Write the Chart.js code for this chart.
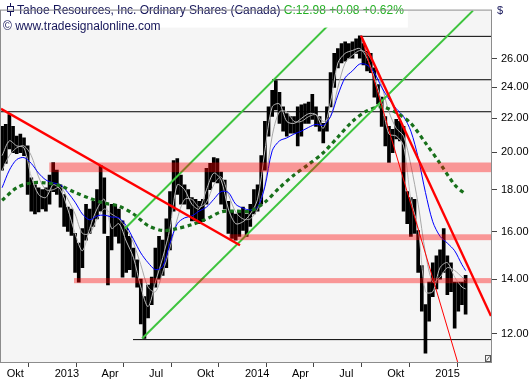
<!DOCTYPE html>
<html><head><meta charset="utf-8">
<script src="https://cdn.jsdelivr.net/npm/chart.js@4.4.1/dist/chart.umd.min.js"></script>
<style>html,body{margin:0;padding:0;background:#fff;overflow:hidden}#wrap{width:529px;height:380px;position:relative}</style>
</head><body><div id="wrap"><canvas id="c" width="529" height="380"></canvas></div>
<script>
// Dates are day offsets counted from 1 Oct 2012
const tickDays = [0, 92, 182, 273, 365, 457, 547, 638, 730, 822];
const tickLabels = ['Okt', '2013', 'Apr', 'Jul', 'Okt', '2014', 'Apr', 'Jul', 'Okt', '2015'];
const yTicks = [12, 14, 16, 18, 20, 22, 24, 26];
const xMin = -7.1, xMax = 932.7, yMin = 11.09, yMax = 29.78;
const firstWeekDay = -5, weekStep = 7;

// weekly high / low ranges (C$)
const highs = [21.51,21.63,22.23,21.51,20.93,21.05,20.82,20.36,18.61,18.25,18.10,18.00,18.10,18.76,19.43,19.02,18.25,17.76,17.14,17.05,
15.92,15.49,16.14,17.28,17.05,17.42,18.00,19.28,18.61,15.79,17.28,17.28,17.05,16.49,16.23,15.79,15.28,14.78,14.00,13.33,
13.77,14.08,15.28,15.79,15.62,16.58,17.90,19.54,19.65,18.76,18.25,18.00,17.61,17.52,17.42,17.52,19.12,19.38,19.70,19.65,
18.91,18.50,17.42,16.95,16.81,16.95,17.14,16.81,17.28,18.00,18.25,19.81,21.81,22.72,23.80,24.46,23.67,22.72,22.29,22.11,
22.11,22.72,22.85,22.91,23.03,23.54,22.72,22.11,21.69,22.72,25.01,26.41,26.77,27.14,27.28,27.14,27.28,27.51,27.74,27.14,
26.55,26.41,25.35,24.19,23.35,22.11,21.51,21.33,21.93,21.81,21.51,17.90,17.61,17.52,16.05,14.54,13.03,13.88,14.66,14.95,
15.20,16.14,14.95,14.66,13.88,13.88,13.88,14.15];
const lows = [19.02,19.38,20.19,19.97,19.92,19.97,19.81,17.76,16.95,16.81,16.91,17.05,16.95,17.28,17.90,17.76,17.14,16.23,16.01,15.83,
14.27,13.88,14.46,15.62,15.92,16.23,16.58,16.95,15.92,13.77,15.20,15.79,15.49,14.08,14.27,14.38,14.08,13.69,12.34,11.85,
12.55,13.03,13.69,14.00,14.15,14.46,15.20,16.95,17.76,17.28,17.28,17.05,16.49,16.49,16.36,16.45,17.28,18.00,18.40,18.35,
17.28,17.05,15.92,15.70,15.62,15.79,16.05,15.79,16.23,16.81,16.95,17.28,19.02,20.93,22.11,22.53,21.69,21.22,20.93,21.10,
21.10,20.36,20.93,21.69,21.69,21.93,21.51,21.22,20.53,21.22,22.72,24.00,25.35,25.70,25.84,26.05,26.05,26.41,26.05,25.56,
25.14,25.01,23.35,22.91,21.51,20.36,19.43,19.97,20.76,20.65,16.95,16.36,15.79,15.92,14.27,12.79,11.37,12.44,13.33,13.62,
14.00,14.27,13.40,13.51,12.20,12.79,13.03,12.69];

// moving averages, read every 2nd week (plus last week)
const maBlue = [18.10,19.02,19.59,19.70,19.38,18.86,18.50,18.35,18.25,17.86,17.38,16.81,16.54,16.72,16.76,16.67,16.63,16.27,15.66,15.07,
14.66,14.38,14.50,15.49,16.36,16.63,16.72,16.95,17.14,17.52,17.90,17.86,17.28,17.09,17.00,17.14,18.15,20.08,20.65,20.82,
21.05,21.22,21.45,21.63,21.57,22.11,23.48,24.66,25.14,25.63,25.56,25.01,24.00,23.22,22.60,22.11,21.22,19.70,17.86,16.45,
15.79,15.49,15.16,14.58,14.34];
const maGrayFast = [19.81,20.65,20.36,20.25,18.66,17.76,17.61,18.25,18.00,17.05,15.92,15.16,16.14,17.05,17.52,16.14,16.36,15.58,14.87,13.69,
12.96,13.88,14.87,16.14,18.25,18.00,17.28,17.05,18.00,18.86,18.50,17.05,16.36,16.45,16.81,17.52,20.08,22.72,22.91,21.81,
21.69,21.99,22.29,22.23,21.39,23.03,25.70,26.41,26.62,26.77,26.05,24.66,23.03,21.05,20.93,20.36,17.52,16.14,13.51,13.51,
14.46,14.66,14.08,13.69,13.62];
const maGraySlow = [19.02,19.81,20.25,20.36,19.81,18.66,18.00,18.00,18.15,17.52,16.81,15.92,15.92,16.58,17.05,16.81,16.58,16.14,15.49,14.58,
13.69,13.51,14.27,15.28,16.58,17.52,17.52,17.14,17.38,18.25,18.66,17.76,16.91,16.58,16.58,17.05,18.25,20.93,22.41,22.41,
21.81,21.81,22.11,22.23,21.81,22.11,24.00,25.70,26.26,26.62,26.41,25.49,24.13,22.41,21.39,20.93,19.28,17.28,15.07,13.88,
14.08,14.46,14.34,14.08,13.96];
// long moving average, read every 4th week (plus last week)
const maGreen = [17.47,18.10,18.35,18.35,18.20,17.86,17.57,17.33,17.19,16.81,16.27,16.05,16.14,16.32,16.58,16.91,16.95,16.95,17.38,18.10,
18.76,19.33,19.97,20.87,21.81,22.47,22.72,22.35,21.69,20.53,19.38,18.25,17.76];

// drawn trendlines: [day, price] end points
const redLine1 = [[-7.1, 22.60], [451.3, 15.40]];
const redLine2 = [[683.4, 27.74], [932.7, 12.62]];
const redThin = [[683.4, 27.74], [868.6, 11.09]];
const greenUpper = [[230.7, 16.14], [648.8, 29.78]];
const greenLower = [[263.5, 11.85], [898.2, 29.78]];
// horizontal lines: [start day, price] (run to right edge)
const hLines = [[683.4, 27.70], [512.7, 24.52], [-7.1, 22.41], [246.1, 11.81]];
// zones: [start day, low price, high price]
const zones = [[85.5, 18.91, 19.43], [430.2, 15.62, 15.88], [132.9, 13.84, 14.04]];

const weekDay = i => firstWeekDay + weekStep * i;
const idx2 = []; for (let i = 0; i < highs.length; i += 2) idx2.push(i); idx2.push(highs.length - 1);
const idx4 = []; for (let i = 0; i < highs.length; i += 4) idx4.push(i); idx4.push(highs.length - 1);
const toPts = (arr, idx) => arr.map((v, k) => ({x: weekDay(idx[k]), y: v}));
const seg = a => a.map(p => ({x: p[0], y: p[1]}));

const FONT = 'Liberation Sans';
const lineDs = (data, color, width, order, extra) => Object.assign({
  type: 'line', data, borderColor: color, borderWidth: width, pointRadius: 0, fill: false, tension: 0, order
}, extra || {});

const datasets = [];
hLines.forEach(h => datasets.push(lineDs(seg([[h[0], h[1]], [xMax, h[1]]]), '#000000', 1, 20)));
datasets.push({type: 'bar', data: highs.map((h, i) => ({x: weekDay(i), y: [lows[i], h]})),
  backgroundColor: '#000000', borderWidth: 0, barThickness: 3, order: 15});
datasets.push(lineDs(toPts(maGraySlow, idx2), '#a8a8a8', 1, 12, {tension: 0.3}));
datasets.push(lineDs(toPts(maGrayFast, idx2), '#bdbdbd', 1, 11, {tension: 0.3}));
datasets.push(lineDs(toPts(maBlue, idx2), '#0000ff', 1, 10, {tension: 0.3}));
datasets.push(lineDs(toPts(maGreen, idx4), '#17701a', 3.2, 9, {tension: 0.3, borderDash: [4, 3.5], borderCapStyle: 'butt'}));
datasets.push(lineDs(seg(greenUpper), '#3ec43e', 2, 8));
datasets.push(lineDs(seg(greenLower), '#3ec43e', 2, 8));
datasets.push(lineDs(seg(redThin), '#ff0000', 1, 7));
datasets.push(lineDs(seg(redLine1), '#ff0000', 2.4, 6));
datasets.push(lineDs(seg(redLine2), '#ff0000', 2.4, 6));

const deco = {
  id: 'deco',
  beforeDraw(chart) {
    const {ctx, chartArea: a} = chart;
    ctx.save();
    ctx.fillStyle = '#ffffff';
    ctx.fillRect(0, 0, chart.width, chart.height);
    ctx.fillStyle = '#f5f5f5';
    ctx.fillRect(a.left, a.top, a.right - a.left, a.bottom - a.top);
    ctx.restore();
  },
  afterDatasetsDraw(chart) {
    const {ctx, chartArea: a, scales: {x, y}} = chart;
    ctx.save();
    ctx.beginPath(); ctx.rect(a.left, a.top, a.right - a.left, a.bottom - a.top); ctx.clip();
    ctx.fillStyle = 'rgba(255,0,0,0.39)';
    zones.forEach(z => {
      const x0 = x.getPixelForValue(z[0]), x1 = x.getPixelForValue(xMax);
      const yt = y.getPixelForValue(z[2]), yb = y.getPixelForValue(z[1]);
      ctx.fillRect(x0, yt, x1 - x0, yb - yt);
    });
    ctx.restore();
    ctx.save();
    // title
    ctx.font = '12px "' + FONT + '"';
    const t1 = 'Tahoe Resources, Inc. Ordinary Shares (Canada)';
    const t2 = 'C:12.98 +0.08 +0.62%';
    const w1 = ctx.measureText(t1).width, w2 = ctx.measureText(' ' + t2).width;
    ctx.fillStyle = '#ffffff';
    ctx.fillRect(a.left, a.top, 17 + w1 + w2 + 4 - a.left, 17);
    ctx.fillStyle = '#16165a';
    ctx.textBaseline = 'alphabetic';
    ctx.fillText(t1, 17, 14);
    ctx.fillStyle = '#24b024';
    ctx.fillText(' ' + t2, 17 + w1, 14);
    ctx.fillStyle = '#16165a';
    ctx.fillText('\u00a9 www.tradesignalonline.com', 3, 30);
    // bar icon
    ctx.strokeStyle = '#16165a'; ctx.lineWidth = 1;
    ctx.beginPath(); ctx.moveTo(10.5, 3); ctx.lineTo(10.5, 16); ctx.stroke();
    ctx.fillStyle = '#ffffff';
    ctx.fillRect(7.5, 6.5, 6, 5); ctx.strokeRect(7.5, 6.5, 6, 5);
    // frame
    ctx.strokeStyle = '#8c8c8c';
    ctx.strokeRect(a.left - 0.5, a.top - 0.5, a.right - a.left + 1, a.bottom - a.top + 1);
    // resize glyph
    ctx.strokeStyle = '#555';
    ctx.strokeRect(a.right - 5.5, a.bottom - 6.5, 5, 6);
    ctx.beginPath(); ctx.moveTo(a.right - 4.5, a.bottom - 1.5); ctx.lineTo(a.right - 1.5, a.bottom - 5.5); ctx.stroke();
    // currency
    ctx.fillStyle = '#16165a';
    ctx.font = '11px "' + FONT + '"';
    ctx.fillText('$', 497, 14);
    ctx.restore();
  }
};

new Chart(document.getElementById('c'), {
  type: 'bar',
  data: {datasets},
  options: {
    responsive: false, animation: false, devicePixelRatio: 1, events: [],
    layout: {padding: {left: 1, top: 1, right: 0, bottom: 0}},
    plugins: {legend: {display: false}, tooltip: {enabled: false}},
    scales: {
      x: {
        type: 'linear', min: xMin, max: xMax, offset: false,
        afterBuildTicks: s => { s.ticks = tickDays.map(v => ({value: v})); },
        afterFit: s => { s.height = 18; },
        ticks: {autoSkip: false, maxRotation: 0, minRotation: 0, align: 'start', labelOffset: 2, padding: 0,
          color: '#000', font: {family: FONT, size: 11},
          callback: v => tickLabels[tickDays.indexOf(v)]},
        grid: {drawOnChartArea: false, drawTicks: true, tickLength: 5, color: '#444'},
        border: {display: true, color: '#8c8c8c'}
      },
      y: {
        type: 'logarithmic', position: 'right', min: yMin, max: yMax,
        afterBuildTicks: s => { s.ticks = yTicks.map(v => ({value: v})); },
        afterFit: s => { s.width = 38; },
        ticks: {padding: 4, color: '#000', font: {family: FONT, size: 11},
          callback: v => Number(v).toFixed(2)},
        grid: {drawOnChartArea: false, drawTicks: true, tickLength: 6, color: '#444'},
        border: {display: true, color: '#8c8c8c'}
      }
    }
  },
  plugins: [deco]
});
</script>
</body></html>
